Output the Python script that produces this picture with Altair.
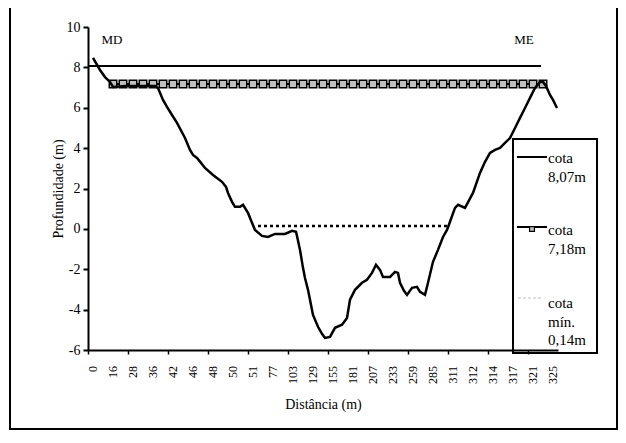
import altair as alt
import pandas as pd

# ---------------- data ----------------
distance_labels = ["0", "16", "28", "36", "42", "46", "48", "50", "51", "77", "103", "129",
                   "155", "181", "207", "233", "259", "285", "311", "312", "314", "317", "321", "325"]
n_categories = 47

profile_pos = [0.0, 0.7, 1.2, 1.7, 2.0, 3.2, 4.7, 6.2, 6.5, 7.0, 7.4, 7.9, 8.4, 9.2, 9.7, 10.0,
               10.4, 10.8, 11.2, 12.0, 12.9, 13.3, 13.5, 13.9, 14.2, 14.7, 15.0, 15.5, 15.9, 16.2,
               16.9, 17.5, 18.2, 19.2, 19.9, 20.3, 20.4, 20.7, 21.0, 21.2, 21.5, 21.7, 22.0, 22.5,
               22.9, 23.2, 23.7, 24.2, 24.9, 25.4, 25.7, 26.2, 26.9, 27.4, 27.9, 28.3, 28.7, 29.0,
               29.7, 30.2, 30.5, 30.7, 31.1, 31.4, 31.9, 32.4, 32.7, 33.2, 33.5, 34.0, 34.5, 35.0,
               35.4, 35.7, 36.2, 36.5, 37.2, 38.0, 38.7, 39.2, 39.7, 40.2, 40.7, 41.2, 41.7, 42.2,
               42.7, 43.2, 43.7, 44.2, 44.7, 45.0, 45.3, 45.7, 46.0, 46.4]
profile_depth = [8.47, 7.87, 7.52, 7.28, 7.03, 7.08, 7.08, 7.08, 6.98, 6.39, 6.04, 5.64, 5.25, 4.50,
                 3.91, 3.66, 3.51, 3.27, 3.02, 2.67, 2.33, 2.08, 1.78, 1.34, 1.09, 1.09, 1.19, 0.79,
                 0.30, -0.05, -0.35, -0.40, -0.25, -0.25, -0.10, -0.15, -0.35, -1.04, -1.93, -2.43,
                 -3.02, -3.51, -4.26, -4.85, -5.20, -5.40, -5.35, -4.90, -4.75, -4.41, -3.51, -3.02,
                 -2.67, -2.52, -2.18, -1.78, -2.03, -2.38, -2.38, -2.13, -2.18, -2.67, -3.07, -3.27,
                 -2.92, -2.87, -3.12, -3.27, -2.67, -1.63, -1.04, -0.40, -0.05, 0.35, 1.04, 1.19,
                 1.04, 1.78, 2.77, 3.32, 3.76, 3.91, 4.01, 4.26, 4.50, 5.00, 5.50, 5.99, 6.49, 6.98,
                 7.28, 7.28, 7.08, 6.63, 6.39, 5.99]

cota_alta = 8.07
cota_alta_range = [-0.4, 44.8]
cota_media = 7.18
cota_media_pos = list(range(2, 46))   # one marker per category
cota_min = 0.14
cota_min_range = [16.5, 35.5]

y_ticks = [-6, -4, -2, 0, 2, 4, 6, 8, 10]

# ---------------- tables ----------------
df_profile = pd.DataFrame({"pos": profile_pos, "depth": profile_depth})
df_alta = pd.DataFrame({"pos": cota_alta_range, "depth": [cota_alta] * len(cota_alta_range)})
df_media = pd.DataFrame({"pos": cota_media_pos, "depth": [cota_media] * len(cota_media_pos)})
df_min = pd.DataFrame({"pos": cota_min_range, "depth": [cota_min] * len(cota_min_range)})
df_xlab = pd.DataFrame({"pos": list(range(0, n_categories, 2)), "label": distance_labels})
one = pd.DataFrame({"a": [0]})

FONT = "'Liberation Serif', 'Times New Roman', 'DejaVu Serif', serif"
boundaries = [i - 0.5 for i in range(n_categories + 1)]

x_enc = alt.X("pos:Q",
              scale=alt.Scale(domain=[-0.5, n_categories - 0.5], nice=False, zero=False),
              axis=alt.Axis(values=boundaries, labels=False, tickSize=4, tickWidth=1.5,
                            domainWidth=2, domainColor="black", tickColor="black", grid=False,
                            titleColor="black", titleFont=FONT, zindex=1,
                            title="Distância (m)", titleFontSize=14, titleFontWeight="normal",
                            titlePadding=43))
y_enc = alt.Y("depth:Q",
              scale=alt.Scale(domain=[-6, 10], nice=False, zero=False),
              axis=alt.Axis(values=y_ticks, labelExpr="'' + datum.value", labelFontSize=14,
                            labelFont=FONT, labelPadding=3, tickSize=5, tickWidth=2, domainWidth=2,
                            domainColor="black", tickColor="black", grid=False,
                            labelColor="black", titleColor="black", titleFont=FONT, zindex=1,
                            title="Profundidade (m)", titleFontSize=14, titleFontWeight="normal",
                            titlePadding=1))

frame = alt.Chart(one).mark_rect(fillOpacity=0, stroke="black", strokeWidth=2, clip=False).encode(
    x=alt.value(-78), x2=alt.value(529), y=alt.value(-20), y2=alt.value(402))

alta = alt.Chart(df_alta).mark_line(color="black", strokeWidth=2).encode(x=x_enc, y=y_enc)
media = alt.Chart(df_media).mark_line(color="black", strokeWidth=2).encode(x="pos:Q", y="depth:Q")
media_pts = alt.Chart(df_media).mark_point(shape="square", filled=True, fill="#c0c0c0",
                                           stroke="black", strokeWidth=1.5, size=56,
                                           opacity=1).encode(x="pos:Q", y="depth:Q")
minimo = alt.Chart(df_min).mark_line(color="black", strokeWidth=2.5, strokeDash=[3, 3]).encode(
    x="pos:Q", y="depth:Q")
profile = alt.Chart(df_profile).mark_line(color="black", strokeWidth=2.5).encode(x="pos:Q", y="depth:Q")

xlabels = alt.Chart(df_xlab).mark_text(font=FONT, fontSize=12, angle=270, align="right",
                                       baseline="middle", color="black").encode(
    x="pos:Q", y=alt.value(339), text="label:N")

md = alt.Chart(one).mark_text(font=FONT, fontSize=13, align="center", baseline="middle").encode(
    x=alt.value(24), y=alt.value(13), text=alt.value("MD"))
me = alt.Chart(one).mark_text(font=FONT, fontSize=13, align="center", baseline="middle").encode(
    x=alt.value(436), y=alt.value(13), text=alt.value("ME"))

# legend (drawn by hand, Excel style)
leg_box = alt.Chart(one).mark_rect(fill="white", stroke="black", strokeWidth=2, clip=False).encode(
    x=alt.value(425), x2=alt.value(509), y=alt.value(112), y2=alt.value(326))
leg_l1 = alt.Chart(one).mark_rule(color="black", strokeWidth=2).encode(
    x=alt.value(429), x2=alt.value(459), y=alt.value(130))
leg_l2 = alt.Chart(one).mark_rule(color="black", strokeWidth=2).encode(
    x=alt.value(429), x2=alt.value(459), y=alt.value(200))
leg_p2 = alt.Chart(one).mark_point(shape="square", filled=True, fill="#c0c0c0", stroke="black",
                                   strokeWidth=1.2, size=24, opacity=1).encode(
    x=alt.value(444), y=alt.value(202))
leg_l3 = alt.Chart(one).mark_rule(color="#c0c0c0", strokeWidth=1, strokeDash=[3, 2]).encode(
    x=alt.value(430), x2=alt.value(454), y=alt.value(271))
txt_kw = dict(font=FONT, fontSize=15, align="left", baseline="middle", lineBreak="\n", lineHeight=18.5,
              color="black")
leg_t1 = alt.Chart(one).mark_text(**txt_kw).encode(
    x=alt.value(460), y=alt.value(131), text=alt.value("cota\n8,07m"))
leg_t2 = alt.Chart(one).mark_text(**txt_kw).encode(
    x=alt.value(460), y=alt.value(203), text=alt.value("cota\n7,18m"))
leg_t3 = alt.Chart(one).mark_text(**txt_kw).encode(
    x=alt.value(460), y=alt.value(276), text=alt.value("cota\nmín.\n0,14m"))

chart = alt.layer(
    frame, alta, media, media_pts, minimo, profile, xlabels, md, me,
    leg_box, leg_l1, leg_l2, leg_p2, leg_l3, leg_t1, leg_t2, leg_t3
).properties(
    width=470, height=323,
    autosize=alt.AutoSizeParams(type="none"),
    padding={"left": 80, "top": 19, "right": 60, "bottom": 80},
).configure(
    font=FONT, background="white"
).configure_view(stroke=None)

chart.save("out.html", embed_options={"renderer": "svg", "actions": False})
